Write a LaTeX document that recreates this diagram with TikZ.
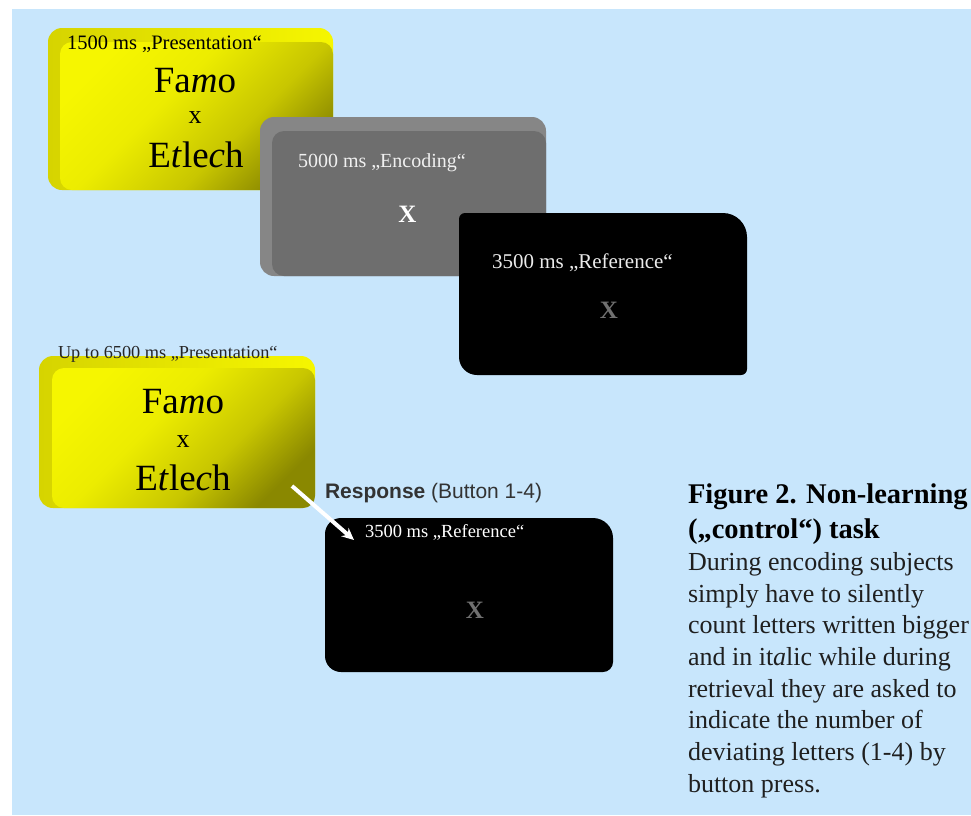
\documentclass[tikz,border=0pt]{standalone}
\usepackage{fontspec}
\setmainfont{Liberation Serif}
\setsansfont{Liberation Sans}
\usetikzlibrary{arrows.meta}
\definecolor{skyback}{RGB}{200,230,252}
\definecolor{yedge}{RGB}{214,212,0}
\definecolor{ybright}{RGB}{246,246,0}
\definecolor{ymid}{RGB}{200,198,0}
\definecolor{ydark}{RGB}{138,136,0}
\definecolor{grayedge}{RGB}{134,134,134}
\definecolor{grayface}{RGB}{110,110,110}
\definecolor{dimx}{RGB}{112,112,112}
\newcommand\fsz[1]{\fontsize{#1}{#1}\selectfont}
\pgfdeclareverticalshading{yfaceshade}{100bp}{color(0bp)=(ydark); color(25bp)=(ydark); color(40bp)=(ymid); color(58bp)=(ybright!96!black); color(75bp)=(ybright); color(100bp)=(ybright)}
\tikzset{ybevel/.style={left color=yedge,right color=ybright},
	yface/.style={shading=yfaceshade,shading angle=45},
	lbl/.style={anchor=base west},
	ctr/.style={anchor=base}}

\begin{document}
\begin{tikzpicture}[x=1pt,y=-1pt,every node/.style={inner sep=0pt,outer sep=0pt},>={Stealth[length=12pt,width=11pt]}]
\useasboundingbox (0,0) rectangle (971,815);
\fill[skyback] (12,9) rectangle (971,815);

% first run: presentation, encoding, reference
\shade[ybevel,rounded corners=14pt] (48,28) rectangle (333,190);
\shade[yface,rounded corners=12pt] (60,42) rectangle (333,190);
\fill[grayedge,rounded corners=14pt] (260,117) rectangle (546,276);
\fill[grayface,rounded corners=12pt] (272,131) rectangle (546,276);
\fill[black] (600,213) [rounded corners=24pt] -- (747,213) [rounded corners=6pt] -- (747,375) [rounded corners=18pt] -- (459,375) [rounded corners=6pt] -- (459,213) -- cycle;

\node[lbl,font=\fsz{20.5}] (pres1) at (67,49) {1500 ms „Presentation“};
\node[ctr,font=\fsz{37}] (famo1) at (195,92) {Fa\textit{m}o};
\node[ctr,font=\fsz{26}] (cross1) at (195,123) {x};
\node[ctr,font=\fsz{37}] (word1) at (196,167) {E\textit{t}le\textit{c}h};
\node[lbl,font=\fsz{20},text=white!94!black] (enc) at (298,167) {5000 ms „Encoding“};
\node[ctr,font=\bfseries\fsz{25},text=white] (cross2) at (407.5,222) {X};
\node[lbl,font=\fsz{21},text=white!92!black] (ref1) at (492,268) {3500 ms „Reference“};
\node[ctr,font=\bfseries\fsz{25},text=dimx] (cross3) at (609,318) {X};

% second run: self-paced presentation, reference
\shade[ybevel,rounded corners=14pt] (39,356) rectangle (315,508);
\shade[yface,rounded corners=12pt] (52,368) rectangle (315,508);
\fill[black] (470,518) [rounded corners=20pt] -- (613,518) [rounded corners=10pt] -- (613,672) [rounded corners=16pt] -- (325,672) [rounded corners=16pt] -- (325,518) -- cycle;

\node[lbl,font=\fsz{18.3},text=black!85] (pres2) at (58,358) {Up to 6500 ms „Presentation“};
\node[ctr,font=\fsz{37}] (famo2) at (183,413) {Fa\textit{m}o};
\node[ctr,font=\fsz{26}] (cross4) at (183,447) {x};
\node[ctr,font=\fsz{37}] (word2) at (183,490) {E\textit{t}le\textit{c}h};
\node[lbl,font=\sffamily\fsz{21},text=black!80] (resp) at (325,498) {\textbf{Response} (Button 1-4)};
\node[lbl,font=\fsz{18.5},text=white] (ref2) at (365,537) {3500 ms „Reference“};
\node[ctr,font=\bfseries\fsz{25},text=dimx] (cross5) at (475,618) {X};

\coordinate (btnfrom) at (292,486);
\coordinate (btnto) at (354,540);
\draw[->,white,line width=4pt] (btnfrom) -- (btnto);

% caption
\node[lbl,font=\bfseries\fsz{28.5}] (title1) at (688,503) {Figure 2. Non-learning};
\node[lbl,font=\bfseries\fsz{28.5}] (title2) at (688,538) {(„control“) task};
\foreach \y/\t [count=\i] in {570/{During encoding subjects},602/{simply have to silently},633/{count letters written bigger},665/{and in it\textit{a}lic while during},697/{retrieval they are asked to},728/{indicate the number of},760/{deviating letters (1-4) by},792/{button press.}} {
	\node[lbl,font=\fsz{26},text=black!88] (cap\i) at (688,\y) {\t};
};
\end{tikzpicture}
\end{document}
